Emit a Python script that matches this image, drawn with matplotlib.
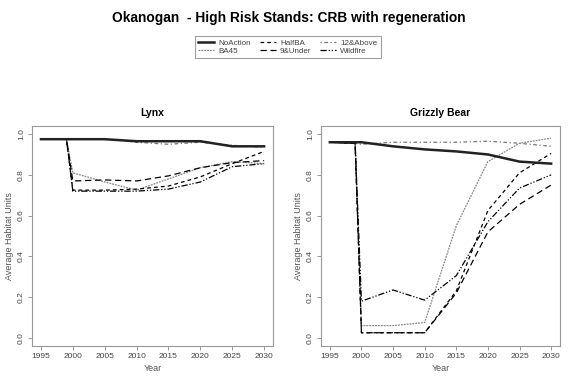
import numpy as np
import matplotlib
matplotlib.use("Agg")
import matplotlib.pyplot as plt
from matplotlib.lines import Line2D

plt.rcParams['font.family'] = ['Liberation Sans', 'DejaVu Sans']

# data
years = [1995, 1999, 2000, 2005, 2010, 2015, 2020, 2025, 2030]
series = ["NoAction", "BA45", "HalfBA", "9&Under", "12&Above", "Wildfire"]

lynx_noaction = [0.975, 0.975, 0.975, 0.975, 0.965, 0.965, 0.965, 0.94, 0.94]
lynx_ba45 = [0.975, 0.975, 0.81, 0.765, 0.725, 0.78, 0.835, 0.865, 0.855]
lynx_halfba = [0.975, 0.975, 0.725, 0.725, 0.73, 0.745, 0.79, 0.855, 0.915]
lynx_9under = [0.975, 0.975, 0.77, 0.775, 0.77, 0.795, 0.835, 0.86, 0.87]
lynx_12above = [0.975, 0.975, 0.975, 0.975, 0.96, 0.95, 0.96, 0.945, 0.935]
lynx_wildfire = [0.975, 0.975, 0.72, 0.72, 0.72, 0.73, 0.765, 0.84, 0.855]

griz_noaction = [0.96, 0.96, 0.96, 0.94, 0.925, 0.915, 0.90, 0.865, 0.855]
griz_ba45 = [0.96, 0.955, 0.06, 0.06, 0.075, 0.55, 0.865, 0.955, 0.98]
griz_halfba = [0.96, 0.955, 0.025, 0.025, 0.025, 0.23, 0.625, 0.81, 0.905]
griz_9under = [0.96, 0.955, 0.025, 0.025, 0.025, 0.22, 0.52, 0.655, 0.75]
griz_12above = [0.96, 0.955, 0.95, 0.96, 0.96, 0.96, 0.965, 0.955, 0.94]
griz_wildfire = [0.96, 0.955, 0.18, 0.235, 0.185, 0.305, 0.57, 0.735, 0.80]

xticks = [1995, 2000, 2005, 2010, 2015, 2020, 2025, 2030]
yticks = [0.0, 0.2, 0.4, 0.6, 0.8, 1.0]

# line styles per series
styles = {
    "NoAction": dict(color="#222222", lw=1.8, ls="-"),
    "BA45": dict(color="#888888", lw=0.9, ls=(0, (1.5, 0.8))),
    "HalfBA": dict(color="black", lw=0.9, ls=(0, (3, 2.5))),
    "9&Under": dict(color="black", lw=0.9, ls=(0, (5, 3))),
    "12&Above": dict(color="#777777", lw=0.9, ls=(0, (1, 2, 3, 2))),
    "Wildfire": dict(color="black", lw=0.9, ls=(0, (5, 1.5, 1, 1.5, 1, 1.5))),
}

fig = plt.figure(figsize=(5.77, 3.84), dpi=100)

fig.text(0.5, 0.952, "Okanogan  - High Risk Stands: CRB with regeneration",
         ha="center", va="center", fontsize=9.9, fontweight="bold")

panels = [
    ("Lynx", [0.0555, 0.099, 0.4177, 0.573],
     [lynx_noaction, lynx_ba45, lynx_halfba, lynx_9under, lynx_12above, lynx_wildfire]),
    ("Grizzly Bear", [0.5563, 0.099, 0.4142, 0.573],
     [griz_noaction, griz_ba45, griz_halfba, griz_9under, griz_12above, griz_wildfire]),
]

for title, pos, vals in panels:
    ax = fig.add_axes(pos)
    # draw NoAction last so it sits on top
    order = [4, 1, 5, 2, 3, 0]
    for i in order:
        st = styles[series[i]]
        ax.plot(years, vals[i], color=st["color"], lw=st["lw"], linestyle=st["ls"])
    ax.set_xlim(1993.6, 2031.4)
    ax.set_ylim(-0.04, 1.04)
    ax.set_xticks(xticks)
    ax.set_yticks(yticks)
    ax.set_xticklabels([str(x) for x in xticks], fontsize=6, color="#444444")
    ax.set_yticklabels(["%.1f" % y for y in yticks], fontsize=6, color="#444444",
                       rotation=90, va="center")
    ax.tick_params(length=3, width=0.6, color="#888888", pad=2)
    for sp in ax.spines.values():
        sp.set_color("#999999")
        sp.set_linewidth(0.8)
    ax.set_xlabel("Year", fontsize=6.5, color="#555555", labelpad=3)
    ax.set_ylabel("Average Habitat Units", fontsize=6.5, color="#555555", labelpad=3)
    ax.set_title(title, fontsize=7.5, fontweight="bold", pad=7)

handles = [Line2D([0], [0], color=styles[s]["color"], lw=styles[s]["lw"],
                  linestyle=styles[s]["ls"]) for s in series]
leg = fig.legend(handles, series, ncol=3, loc="center",
                 bbox_to_anchor=(0.499, 0.878), fontsize=5.8, frameon=True,
                 fancybox=False, handlelength=2.0, handletextpad=0.5,
                 columnspacing=1.1, labelspacing=0.05, borderpad=0.4)
leg.get_frame().set_edgecolor("#888888")
leg.get_frame().set_linewidth(0.8)
for t in leg.get_texts():
    t.set_color("#444444")

fig.savefig("out.png", dpi=100)
